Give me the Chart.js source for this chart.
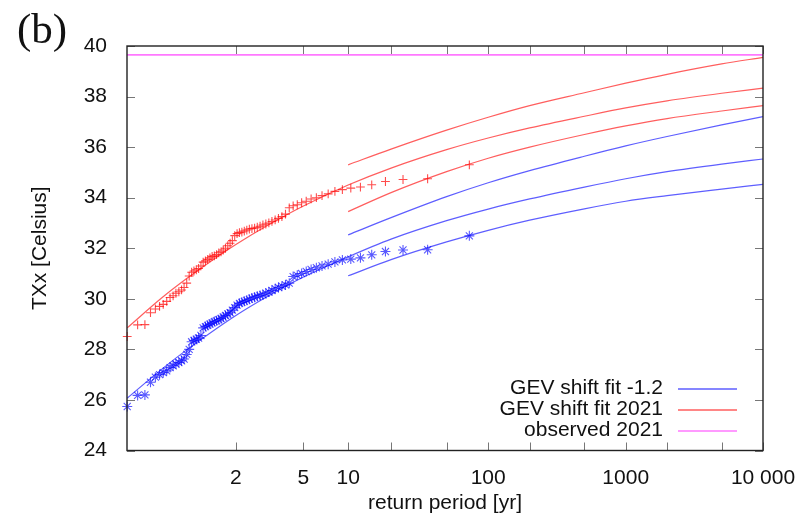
<!DOCTYPE html>
<html><head><meta charset="utf-8">
<script src="https://cdn.jsdelivr.net/npm/chart.js@4.4.1/dist/chart.umd.min.js"></script>
<style>html,body{margin:0;padding:0;background:#fff}#wrap{position:relative;width:803px;height:523px}</style>
</head><body><div id="wrap"><canvas id="c" width="803" height="523"></canvas></div>
<script>
// ---------- data ----------
const obsPeriods = [1.0139,1.028,1.043,1.058,1.074,1.090,1.106,1.123,1.141,1.159,1.177,1.197,1.217,1.237,1.259,1.281,1.304,1.327,1.352,1.377,1.404,1.431,1.460,1.490,1.521,1.553,1.587,1.622,1.659,1.698,1.738,1.780,1.825,1.872,1.921,1.973,2.028,2.086,2.147,2.212,2.281,2.355,2.433,2.517,2.607,2.704,2.808,2.920,3.042,3.174,3.318,3.476,3.650,3.842,4.056,4.294,4.563,4.867,5.214,5.615,6.083,6.636,7.300,8.111,9.125,10.43,12.17,14.60,18.25,24.33,36.50,73.00];
const blueObs = [25.74,26.18,26.2,26.7,26.9,27.0,27.08,27.15,27.28,27.35,27.42,27.48,27.55,27.62,27.8,28.0,28.3,28.35,28.4,28.45,28.55,28.85,28.9,28.95,29.0,29.05,29.1,29.13,29.17,29.22,29.28,29.34,29.4,29.45,29.55,29.65,29.75,29.82,29.86,29.9,29.94,29.98,30.03,30.06,30.1,30.13,30.16,30.22,30.27,30.33,30.4,30.45,30.5,30.55,30.62,30.88,30.93,31.0,31.08,31.16,31.23,31.3,31.37,31.46,31.54,31.57,31.62,31.74,31.87,31.93,31.94,32.49];
const redObs = [28.51,28.97,28.98,29.45,29.6,29.7,29.78,29.9,30.05,30.12,30.22,30.28,30.35,30.45,30.62,30.9,31.05,31.1,31.15,31.2,31.3,31.45,31.5,31.56,31.62,31.68,31.7,31.75,31.82,31.86,31.93,32.0,32.1,32.2,32.3,32.5,32.58,32.62,32.64,32.68,32.72,32.76,32.78,32.8,32.83,32.87,32.92,32.96,33.0,33.06,33.12,33.18,33.25,33.35,33.6,33.68,33.72,33.8,33.86,33.95,34.0,34.08,34.15,34.25,34.32,34.38,34.42,34.51,34.64,34.72,34.75,35.30];

const fitPeriods = [1.0139,1.1,1.25,1.5,2,3,5,10,20,50,100,200,500,1000,2000,5000,10000];
const redFit  = [28.85,30.04,30.77,31.42,32.15,32.91,33.67,34.50,35.17,35.90,36.36,36.76,37.22,37.55,37.83,38.13,38.33];
const blueFit = [26.07,27.22,27.95,28.60,29.34,30.10,30.86,31.66,32.36,33.09,33.55,33.95,34.42,34.75,35.03,35.33,35.53];

const boundPeriods = [10,20,50,100,200,500,1000,2000,5000,10000];
const redUpper  = [35.30,35.92,36.67,37.18,37.64,38.15,38.53,38.88,39.29,39.55];
const redLower  = [33.45,34.20,35.03,35.56,36.00,36.50,36.84,37.13,37.43,37.64];
const blueUpper = [32.53,33.21,34.04,34.59,35.07,35.64,36.05,36.42,36.88,37.21];
const blueLower = [30.91,31.55,32.25,32.71,33.11,33.56,33.86,34.08,34.34,34.53];

const observed2021 = 39.65;

const xTickPeriods = [2,5,10,20,50,100,200,500,1000,2000,5000,10000];
const xTickLabels  = ['2','5','10','','','100','','','1000','','','10 000'];
const yMin = 24, yMax = 40, yStep = 2;

// ---------- helpers ----------
// Gumbel-type return period axis
function gumbel(T){ return -Math.log(-Math.log(1 - 1/T)); }
const toPts = (ts, vs) => ts.map((t,i)=>({x:gumbel(t), y:vs[i]}));

const FONT = "'Liberation Sans', Arial, Helvetica, sans-serif";
const BLUE_L = 'rgba(40,40,255,0.75)';
const RED_L  = 'rgba(255,40,40,0.75)';
const MAG_L  = 'rgb(255,120,255)';

function lineDs(label, pts, color, legend){
  return {type:'line', label, data:pts, borderColor:color, borderWidth:1.2, pointRadius:0,
          fill:false, cubicInterpolationMode:'monotone', showLine:true, legend};
}

const datasets = [
  {type:'scatter', label:'obs -1.2', data:toPts(obsPeriods, blueObs), pointStyle:'star', radius:5,
   borderColor:'rgba(0,0,255,0.65)', backgroundColor:'rgba(0,0,255,0.65)', borderWidth:1.1, clip:false},
  {type:'scatter', label:'obs 2021', data:toPts(obsPeriods, redObs), pointStyle:'cross', radius:4.4,
   borderColor:'rgba(255,0,0,0.7)', backgroundColor:'rgba(255,0,0,0.7)', borderWidth:1.1, clip:false},
  lineDs('GEV shift fit -1.2', toPts(fitPeriods, blueFit), BLUE_L, true),
  lineDs('blue upper', toPts(boundPeriods, blueUpper), BLUE_L, false),
  lineDs('blue lower', toPts(boundPeriods, blueLower), BLUE_L, false),
  lineDs('GEV shift fit 2021', toPts(fitPeriods, redFit), RED_L, true),
  lineDs('red upper', toPts(boundPeriods, redUpper), RED_L, false),
  lineDs('red lower', toPts(boundPeriods, redLower), RED_L, false),
  Object.assign(lineDs('observed 2021', [{x:-1.46,y:observed2021},{x:gumbel(10000),y:observed2021}], MAG_L, true), {borderWidth:1.8})
];

const decor = {
  id:'decor',
  afterDraw(chart){
    const {ctx, chartArea:a, scales:{x,y}} = chart;
    ctx.save();
    // inward ticks on all four sides
    ctx.strokeStyle='#777'; ctx.lineWidth=1;
    ctx.beginPath();
    x.ticks.forEach(t=>{
      const px = Math.round(x.getPixelForValue(t.value))+0.5;
      ctx.moveTo(px,a.bottom); ctx.lineTo(px,a.bottom-8);
      ctx.moveTo(px,a.top); ctx.lineTo(px,a.top+8);
    });
    y.ticks.forEach(t=>{
      const py = Math.round(y.getPixelForValue(t.value))+0.5;
      ctx.moveTo(a.left,py); ctx.lineTo(a.left+8,py);
      ctx.moveTo(a.right,py); ctx.lineTo(a.right-8,py);
    });
    ctx.stroke();
    // frame
    ctx.strokeStyle='#222'; ctx.lineWidth=1.4;
    ctx.strokeRect(a.left, a.top, a.right-a.left, a.bottom-a.top);
    // key
    ctx.font = '21px '+FONT; ctx.textAlign='right'; ctx.textBaseline='middle'; ctx.fillStyle='#111';
    const items = chart.data.datasets.filter(d=>d.legend);
    items.forEach((d,k)=>{
      const yy = a.bottom - 62 + k*21;
      ctx.fillText(d.label, a.right - 100, yy);
      ctx.strokeStyle = d.borderColor; ctx.lineWidth = 1.4;
      ctx.beginPath(); ctx.moveTo(a.right-85, yy+0.5); ctx.lineTo(a.right-26, yy+0.5); ctx.stroke();
    });
    // panel label
    ctx.font = "43px 'Liberation Serif', 'Times New Roman', serif";
    ctx.textAlign='left'; ctx.textBaseline='alphabetic'; ctx.fillStyle='#111';
    ctx.fillText('(b)', 17, 42.5);
    ctx.restore();
  }
};

new Chart(document.getElementById('c'), {
  type:'scatter',
  data:{datasets},
  options:{
    responsive:false, animation:false, events:[],
    layout:{padding:{left:0, right:40, top:46, bottom:0}},
    plugins:{legend:{display:false}, tooltip:{enabled:false}},
    scales:{
      x:{
        type:'linear', min:-1.46, max:gumbel(10000),
        afterBuildTicks:(s)=>{ s.ticks = xTickPeriods.map(T=>({value:gumbel(T)})); },
        ticks:{autoSkip:false, maxRotation:0, padding:7, color:'#111',
               font:{size:21, family:FONT},
               callback:(v,i)=>xTickLabels[i]},
        grid:{display:false}, border:{display:false},
        title:{display:true, text:'return period [yr]', color:'#111',
               font:{size:21, family:FONT}, padding:{top:0, bottom:7}},
        afterFit:(s)=>{ s.height = 72.5; }
      },
      y:{
        type:'linear', min:yMin, max:yMax,
        ticks:{stepSize:yStep, padding:12, color:'#111', font:{size:21, family:FONT}},
        grid:{display:false}, border:{display:false},
        title:{display:true, text:'TXx [Celsius]', color:'#111',
               font:{size:21, family:FONT}, padding:{top:28, bottom:0}},
        afterFit:(s)=>{ s.width = 127; }
      }
    }
  },
  plugins:[decor]
});
</script>
</body></html>
